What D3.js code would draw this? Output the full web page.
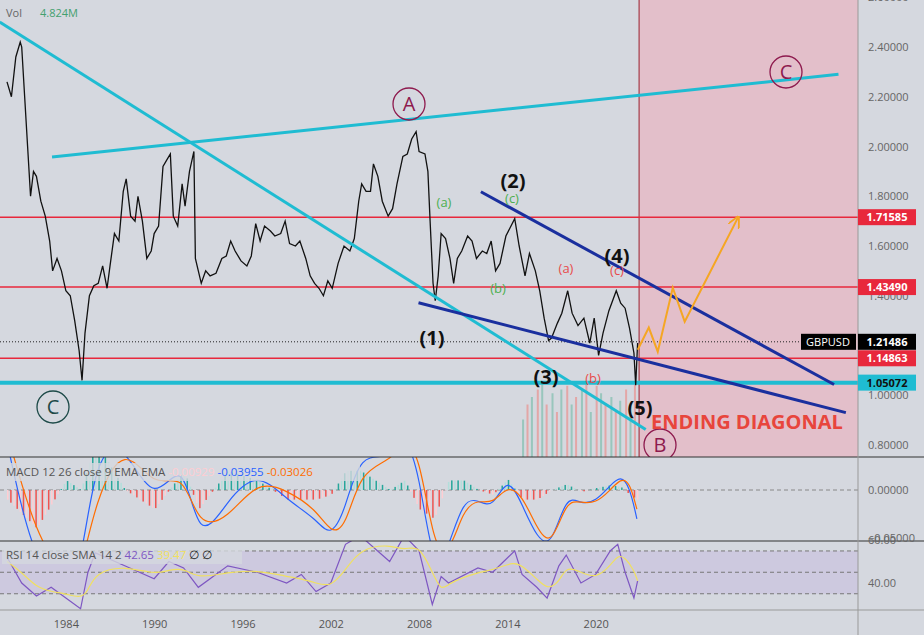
<!DOCTYPE html><html><head><meta charset="utf-8"><script src="https://cdn.jsdelivr.net/npm/d3@7"></script>
<style>body{margin:0;background:#d5d8df;font-family:"Open Sans",sans-serif}</style></head><body><svg id="c" width="924" height="635"></svg>
<script>
const priceYears=[1980.0,1980.3,1980.6,1980.9,1981.0,1981.2,1981.4,1981.6,1981.8,1982.0,1982.3,1982.6,1982.9,1983.1,1983.4,1983.7,1984.0,1984.3,1984.6,1984.9,1985.1,1985.3,1985.6,1985.9,1986.2,1986.5,1986.8,1987.0,1987.3,1987.6,1987.9,1988.1,1988.4,1988.7,1988.9,1989.2,1989.5,1989.8,1990.0,1990.3,1990.6,1990.9,1991.1,1991.3,1991.6,1991.9,1992.1,1992.4,1992.7,1992.8,1993.0,1993.2,1993.5,1993.8,1994.2,1994.6,1994.9,1995.2,1995.5,1995.9,1996.3,1996.6,1996.9,1997.2,1997.5,1997.9,1998.2,1998.6,1998.9,1999.2,1999.6,1999.9,2000.3,2000.6,2000.9,2001.2,2001.5,2001.8,2002.1,2002.5,2002.9,2003.3,2003.6,2003.9,2004.1,2004.4,2004.7,2004.9,2005.2,2005.5,2005.9,2006.2,2006.5,2006.9,2007.2,2007.5,2007.8,2008.0,2008.4,2008.6,2008.75,2008.95,2009.1,2009.3,2009.5,2009.8,2010.1,2010.35,2010.6,2010.9,2011.3,2011.6,2011.9,2012.3,2012.6,2012.9,2013.2,2013.5,2013.9,2014.5,2014.8,2015.2,2015.5,2015.9,2016.2,2016.5,2016.8,2017.0,2017.4,2017.7,2018.1,2018.4,2018.8,2019.2,2019.6,2019.9,2020.2,2020.5,2020.9,2021.4,2021.7,2022.0,2022.3,2022.6,2022.72,2022.85];
const priceClose=[2.26,2.20,2.36,2.42,2.40,2.20,2.00,1.80,1.90,1.88,1.78,1.72,1.62,1.50,1.55,1.50,1.42,1.40,1.30,1.18,1.06,1.25,1.40,1.44,1.45,1.52,1.43,1.52,1.65,1.62,1.82,1.87,1.72,1.70,1.80,1.70,1.55,1.58,1.65,1.68,1.92,1.95,1.97,1.72,1.68,1.85,1.76,1.90,1.98,1.55,1.50,1.45,1.50,1.48,1.49,1.55,1.56,1.62,1.58,1.54,1.52,1.56,1.69,1.62,1.68,1.66,1.64,1.65,1.70,1.61,1.60,1.62,1.55,1.48,1.45,1.43,1.40,1.46,1.43,1.53,1.60,1.58,1.63,1.78,1.85,1.82,1.82,1.93,1.88,1.78,1.72,1.75,1.85,1.96,1.97,2.03,2.06,1.98,1.97,1.90,1.70,1.45,1.38,1.48,1.65,1.63,1.55,1.45,1.55,1.58,1.64,1.62,1.55,1.58,1.57,1.62,1.50,1.53,1.64,1.71,1.60,1.48,1.57,1.50,1.42,1.31,1.22,1.23,1.29,1.33,1.42,1.33,1.28,1.31,1.21,1.31,1.16,1.25,1.34,1.42,1.37,1.35,1.27,1.17,1.04,1.21];
const volYears=[2015,2015.3,2015.6,2016,2016.3,2016.6,2017,2017.3,2017.6,2018,2018.3,2018.6,2019,2019.3,2019.6,2020,2020.3,2020.6,2021,2021.3,2021.6,2022,2022.3,2022.6];
const volValues=[0.5,0.7,0.8,0.9,1.0,0.7,0.85,0.6,0.9,0.95,0.7,0.8,0.9,1.0,0.6,0.95,0.85,0.7,0.8,0.6,0.75,0.9,0.7,1.0];
const macdYears=[1980,1982,1984,1985,1986,1988,1990,1992,1993,1995,1997,1999,2001,2002,2003,2004,2006,2007,2008,2009,2010,2011,2012,2013,2014,2015,2016,2017,2018,2019,2020,2021,2021.7,2022.3,2022.8];
const macdLine=[0.05,-0.09,-0.08,-0.09,0.04,0.05,-0.02,0.04,-0.06,-0.01,0.02,-0.01,-0.03,-0.05,-0.02,0.04,0.03,0.06,0.02,-0.09,-0.06,-0.01,-0.01,-0.02,0.016,-0.015,-0.05,-0.06,-0.004,-0.015,-0.012,0.005,0.015,0.004,-0.03];
const signalLine=[0.06,-0.05,-0.09,-0.09,-0.01,0.05,0.0,0.02,-0.04,-0.03,0.01,0.0,-0.02,-0.045,-0.04,0.02,0.03,0.05,0.04,-0.06,-0.07,-0.02,-0.01,-0.015,0.005,-0.005,-0.04,-0.06,-0.01,-0.013,-0.014,0.0,0.012,0.009,-0.02];
const rsiYears=[1980,1981,1982,1983,1984,1985,1985.5,1986,1988,1990,1991,1992,1993,1995,1997,1999,2000,2001,2002,2003,2004,2006,2007,2008,2008.9,2009.5,2010,2012,2013,2014.5,2015,2016,2016.7,2017.5,2018,2019,2020,2021,2021.5,2022,2022.6,2022.85];
const rsiValues=[52,40,34,38,33,28,45,54,48,42,50,47,38,48,45,40,44,36,40,58,62,50,62,55,30,43,40,47,45,55,44,38,33,48,53,40,44,55,58,45,33,41];
const rsiSma=[50,45,38,36,35,33,36,45,48,44,46,47,42,45,46,43,42,40,38,46,56,58,55,58,45,36,40,45,46,50,48,42,37,40,48,45,42,48,53,52,46,41];
const priceTicks=[0.8,1.0,1.2,1.4,1.6,1.8,2.0,2.2,2.4,2.6];
const yearTicks=[1984,1990,1996,2002,2008,2014,2020];
const redLevels=[1.71585,1.43490,1.14863];
const cyanLevel=1.05072, lastPrice=1.21486;
const orangeYears=[2022.86,2023.61,2024.22,2025.24,2026.05,2029.66];
const orangePrices=[1.183,1.272,1.175,1.432,1.296,1.713];

const svg=d3.select("#c");
const W=858;
const x=d3.scaleLinear().domain([1980,1986]).range([7,95.3]);
const y=d3.scaleLinear().domain([2.4,0.8]).range([47,445]);
const ym=d3.scaleLinear().domain([0,-0.05]).range([490,538]);
const yr=d3.scaleLinear().domain([40,60]).range([583,540]);
const defs=svg.append("defs");
defs.append("clipPath").attr("id","cm").append("rect").attr("x",0).attr("y",0).attr("width",W).attr("height",457);
defs.append("clipPath").attr("id","cmacd").append("rect").attr("x",0).attr("y",457).attr("width",W).attr("height",84);
defs.append("clipPath").attr("id","crsi").append("rect").attr("x",0).attr("y",541).attr("width",W).attr("height",69);
defs.append("marker").attr("id","ar").attr("viewBox","0 0 10 10").attr("refX",8).attr("refY",5).attr("markerWidth",6).attr("markerHeight",6).attr("orient","auto").append("path").attr("d","M0,0L10,5L0,10").attr("fill","none").attr("stroke","#f5a623").attr("stroke-width",1.5);
svg.append("rect").attr("x",x(2022.95)).attr("y",0).attr("width",W-x(2022.95)).attr("height",457).attr("fill","#e6b9c4").attr("opacity",0.8);
svg.append("line").attr("x1",x(2022.95)).attr("x2",x(2022.95)).attr("y1",0).attr("y2",457).attr("stroke","#9c1f2e").attr("stroke-width",1);
const g=svg.append("g").attr("clip-path","url(#cm)");
volYears.forEach((v,i)=>{g.append("rect").attr("x",x(v)).attr("width",2).attr("y",457-volValues[i]*75).attr("height",volValues[i]*75).attr("fill",i%2?"#e8918f":"#7fbfae").attr("opacity",0.7);});
redLevels.forEach(l=>g.append("line").attr("x1",0).attr("x2",W).attr("y1",y(l)).attr("y2",y(l)).attr("stroke","#e8283c").attr("stroke-width",1.5));
g.append("line").attr("x1",0).attr("x2",W).attr("y1",y(lastPrice)).attr("y2",y(lastPrice)).attr("stroke","#222").attr("stroke-dasharray","1,2");
g.append("line").attr("x1",0).attr("x2",W).attr("y1",y(cyanLevel)).attr("y2",y(cyanLevel)).attr("stroke","#1fbcd2").attr("stroke-width",4);
g.append("path").attr("d",d3.line().x((d,i)=>x(priceYears[i])).y(d=>y(d))(priceClose)).attr("fill","none").attr("stroke","#111").attr("stroke-width",1.3);
const seg=(a,b,c,d,col,w)=>g.append("line").attr("x1",x(a)).attr("y1",y(b)).attr("x2",x(c)).attr("y2",y(d)).attr("stroke",col).attr("stroke-width",w);
seg(1979.5,2.5,2023.4,0.862,"#1fbcd2",3);
seg(1983.06,1.958,2036.5,2.29,"#1fbcd2",3);
seg(2012.2,1.818,2036.2,1.043,"#1a2f9e",3);
seg(2007.96,1.372,2037.0,0.93,"#1a2f9e",3);
g.append("path").attr("d",d3.line().x((d,i)=>x(orangeYears[i])).y(d=>y(d))(orangePrices)).attr("fill","none").attr("stroke","#f5a623").attr("stroke-width",2).attr("marker-end","url(#ar)");
const circ=(cx,cy,t,col)=>{g.append("circle").attr("cx",cx).attr("cy",cy).attr("r",16).attr("fill","none").attr("stroke",col).attr("stroke-width",1.3);g.append("text").attr("x",cx).attr("y",cy+7).attr("text-anchor","middle").attr("font-size",20).attr("fill",col).text(t);};
circ(409,104,"A","#8e1a4e");circ(786,72,"C","#8e1a4e");circ(53,407,"C","#1d4a48");circ(660,445,"B","#8e1a4e");
const lab=(tx,ty,t,col,fs,fw)=>g.append("text").attr("x",tx).attr("y",ty).attr("text-anchor","middle").attr("font-size",fs).attr("font-weight",fw||"normal").attr("fill",col).text(t);
lab(513,188,"(2)","#111",20,"bold");lab(617,263,"(4)","#111",20,"bold");lab(432,345,"(1)","#111",20,"bold");lab(546,384,"(3)","#111",20,"bold");lab(640,415,"(5)","#111",20,"bold");
lab(444,207,"(a)","#4caf50",13);lab(512,203,"(c)","#4caf50",13);lab(498,293,"(b)","#4caf50",13);
lab(566,273,"(a)","#e84b4b",13);lab(617,275,"(c)","#e84b4b",13);lab(593,383,"(b)","#e84b4b",13);
g.append("text").attr("x",651).attr("y",429).attr("font-size",20).attr("font-weight","bold").attr("fill","#e8453c").text("ENDING DIAGONAL");
svg.append("text").attr("x",6).attr("y",17).attr("font-size",11).attr("fill","#666").text("Vol");
svg.append("text").attr("x",40).attr("y",17).attr("font-size",11).attr("fill","#43a06f").text("4.824M");
const gm=svg.append("g").attr("clip-path","url(#cmacd)");
gm.append("line").attr("x1",0).attr("x2",W).attr("y1",ym(0)).attr("y2",ym(0)).attr("stroke","#888").attr("stroke-dasharray","4,3");
const nH=200;
const mi=d3.scaleLinear().domain(macdYears);
for(let i=0;i<=nH;i++){const t=1980+i*(2022.8-1980)/nH;const m=mi.copy().range(macdLine)(t),s=mi.copy().range(signalLine)(t);const h=(m-s);
 gm.append("rect").attr("x",x(t)).attr("width",1.5).attr("y",h>0?ym(h):ym(0)).attr("height",Math.abs(ym(h)-ym(0))).attr("fill",h>0?(i%2?"#26a69a":"#b2dfdb"):(i%2?"#ef5350":"#ffcdd2"));}
gm.append("path").attr("d",d3.line().curve(d3.curveBasis).x((d,i)=>x(macdYears[i])).y(d=>ym(d))(macdLine)).attr("fill","none").attr("stroke","#2962ff").attr("stroke-width",1.2);
gm.append("path").attr("d",d3.line().curve(d3.curveBasis).x((d,i)=>x(macdYears[i])).y(d=>ym(d))(signalLine)).attr("fill","none").attr("stroke","#ff6d00").attr("stroke-width",1.2);
svg.append("rect").attr("x",2).attr("y",463).attr("width",358).attr("height",18).attr("fill","#d5d8df").attr("opacity",0.8);
const mt=svg.append("text").attr("x",6).attr("y",476).attr("font-size",11.5);
mt.append("tspan").attr("fill","#555").text("MACD 12 26 close 9 EMA EMA ");mt.append("tspan").attr("fill","#ffcdd2").text(" -0.00929 ");mt.append("tspan").attr("fill","#2962ff").text(" -0.03955 ");mt.append("tspan").attr("fill","#ff6d00").text(" -0.03026");
const gr=svg.append("g").attr("clip-path","url(#crsi)");
gr.append("rect").attr("x",0).attr("width",W).attr("y",yr(54.9)).attr("height",yr(35)-yr(54.9)).attr("fill","#c8c0e0").attr("opacity",0.6);
[54.9,45,35].forEach(v=>gr.append("line").attr("x1",0).attr("x2",W).attr("y1",yr(v)).attr("y2",yr(v)).attr("stroke","#777").attr("stroke-dasharray","4,3"));
gr.append("path").attr("d",d3.line().x((d,i)=>x(rsiYears[i])).y(d=>yr(d))(rsiValues)).attr("fill","none").attr("stroke","#7e57c2").attr("stroke-width",1.2);
gr.append("path").attr("d",d3.line().curve(d3.curveBasis).x((d,i)=>x(rsiYears[i])).y(d=>yr(d))(rsiSma)).attr("fill","none").attr("stroke","#f0e060").attr("stroke-width",1.2);
svg.append("rect").attr("x",2).attr("y",546).attr("width",240).attr("height",18).attr("fill","#d5d8df").attr("opacity",0.8);
const rt=svg.append("text").attr("x",6).attr("y",559).attr("font-size",11.5);
rt.append("tspan").attr("fill","#555").text("RSI 14 close SMA 14 2  ");rt.append("tspan").attr("fill","#7e57c2").text("42.65 ");rt.append("tspan").attr("fill","#f0e060").text(" 39.47 ");rt.append("tspan").attr("fill","#222").text(" ∅ ∅");
[457,541,610].forEach(v=>svg.append("line").attr("x1",0).attr("x2",924).attr("y1",v).attr("y2",v).attr("stroke",v==610?"#999":"#333").attr("stroke-width",1.2));
svg.append("line").attr("x1",W).attr("x2",W).attr("y1",0).attr("y2",635).attr("stroke","#999");
const axP=svg.append("g").attr("transform",`translate(${W},0)`).call(d3.axisRight(y).tickValues(priceTicks).tickFormat(d3.format(".5f")).tickSize(0).tickPadding(10));
axP.select(".domain").remove();axP.selectAll("text").attr("font-size",11).attr("fill","#666").attr("font-family","Open Sans");
const axM=svg.append("g").attr("transform",`translate(${W},0)`).call(d3.axisRight(ym).tickValues([0,-0.05]).tickFormat(d3.format(".5f")).tickSize(0).tickPadding(10));
axM.select(".domain").remove();axM.selectAll("text").attr("font-size",11).attr("fill","#666").attr("font-family","Open Sans").text(d=>d===0?"0.00000":"−0.05000");
const axR=svg.append("g").attr("transform",`translate(${W},0)`).call(d3.axisRight(yr).tickValues([40,60]).tickFormat(d3.format(".2f")).tickSize(0).tickPadding(10));
axR.select(".domain").remove();axR.selectAll("text").attr("font-size",11).attr("fill","#666").attr("font-family","Open Sans");
const axX=svg.append("g").attr("transform","translate(0,610)").call(d3.axisBottom(x).tickValues(yearTicks).tickFormat(d3.format("d")).tickSize(0).tickPadding(10));
axX.select(".domain").remove();axX.selectAll("text").attr("font-size",11).attr("fill","#555").attr("font-family","Open Sans");
const tag=(v,t,bg,fg)=>{svg.append("rect").attr("x",W).attr("y",y(v)-8).attr("width",58).attr("height",16).attr("fill",bg);svg.append("text").attr("x",W+29).attr("y",y(v)+4).attr("text-anchor","middle").attr("font-size",11).attr("font-weight","bold").attr("fill",fg).text(t);};
redLevels.forEach(l=>tag(l,l.toFixed(5),"#e8283c","#fff"));
tag(cyanLevel,cyanLevel.toFixed(5),"#1fbcd2","#111");
tag(lastPrice,lastPrice.toFixed(5),"#000","#fff");
svg.append("rect").attr("x",801).attr("y",y(lastPrice)-8).attr("width",55).attr("height",16).attr("fill","#000");
svg.append("text").attr("x",828).attr("y",y(lastPrice)+4).attr("text-anchor","middle").attr("font-size",11).attr("fill","#fff").text("GBPUSD");
</script></body></html>
